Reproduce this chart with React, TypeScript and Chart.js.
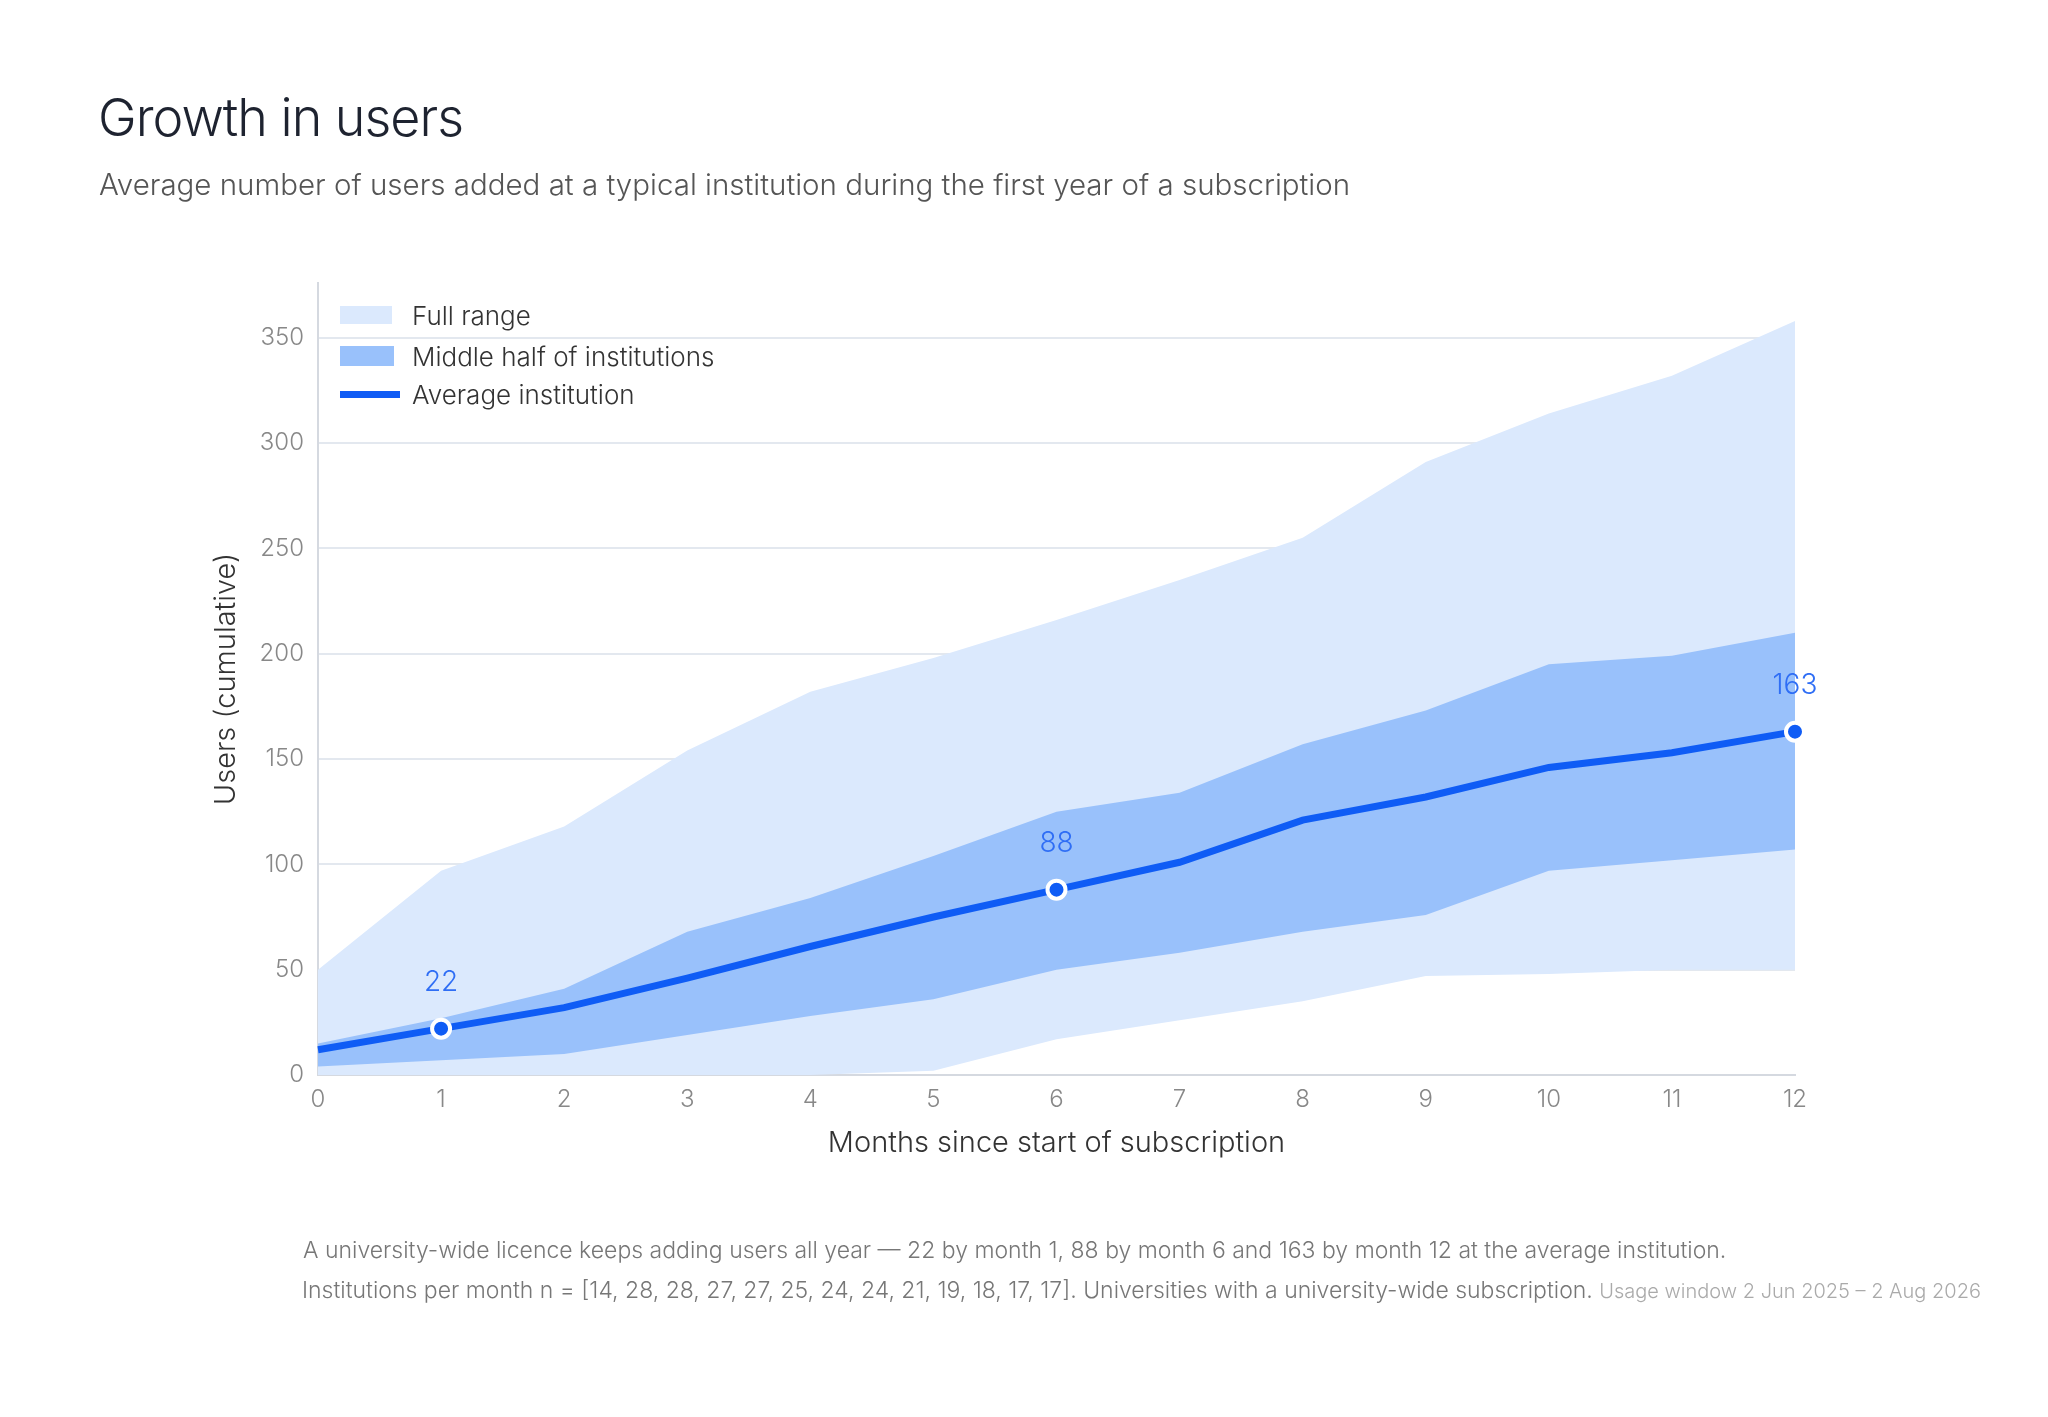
import React, { useEffect, useRef } from "react";
import { Chart, registerables } from "chart.js";
Chart.register(...registerables);

const months = ["0","1","2","3","4","5","6","7","8","9","10","11","12"];
const fullUpper = [50, 97, 118, 154, 182, 198, 216, 235, 255, 291, 314, 332, 358];
const fullLower = [0, 0, 0, 0, 0, 2, 17, 26, 35, 47, 48, 50, 50];
const iqrUpper = [15, 27, 41, 68, 84, 104, 125, 134, 157, 173, 195, 199, 210];
const iqrLower = [4, 7, 10, 19, 28, 36, 50, 58, 68, 76, 97, 102, 107];
const average = [12, 22, 32, 46, 61, 75, 88, 101, 121, 132, 146, 153, 163];
const labelled = [1, 6, 12];

const FONT = "Inter, 'Noto Sans', sans-serif";
const BLUE = "#0f5cf5";

export default function App() {
  const ref = useRef<HTMLCanvasElement>(null);
  useEffect(() => {
    const labelPlugin = {
      id: "valLabels",
      afterDatasetsDraw(chart: any) {
        const meta = chart.getDatasetMeta(4);
        const ctx = chart.ctx;
        ctx.save();
        ctx.font = `300 28px ${FONT}`;
        ctx.fillStyle = "#2f6ef5";
        ctx.textAlign = "center";
        ctx.textBaseline = "bottom";
        labelled.forEach((i) => {
          const p = meta.data[i];
          ctx.fillText(String(average[i]), p.x, p.y - 32);
        });
        ctx.restore();
      },
    };
    const chart = new Chart(ref.current!, {
      type: "line",
      data: {
        labels: months,
        datasets: [
          { label: "Full range", data: fullUpper, borderWidth: 0, pointRadius: 0, backgroundColor: "#dbe9fd", fill: "+1", order: 3 },
          { label: "fl", data: fullLower, borderWidth: 0, pointRadius: 0, fill: false, order: 3 },
          { label: "Middle half of institutions", data: iqrUpper, borderWidth: 0, pointRadius: 0, backgroundColor: "#99c1fb", fill: "+1", order: 2 },
          { label: "il", data: iqrLower, borderWidth: 0, pointRadius: 0, fill: false, order: 2 },
          {
            label: "Average institution", data: average, borderColor: BLUE, borderWidth: 7, fill: false, order: 0,
            pointRadius: average.map((_, i) => (labelled.includes(i) ? 9 : 0)),
            pointBackgroundColor: BLUE, pointBorderColor: "#fff", pointBorderWidth: 4,
          },
        ],
      },
      options: {
        responsive: false,
        animation: false,
        layout: { padding: { left: 205, right: 253, top: 283, bottom: 252 } },
        plugins: { legend: { display: false }, tooltip: { enabled: false } },
        scales: {
          x: {
            type: "category",
            offset: false,
            grid: { display: false },
            border: { color: "#d5d9e0", width: 2 },
            ticks: { color: "#888", font: { family: FONT, size: 24, weight: 300 }, padding: 2 },
            title: { display: true, text: "Months since start of subscription", color: "#333", font: { family: FONT, size: 29, weight: 300 }, padding: { top: 0 } },
            afterFit: (s: any) => { s.height = 90; },
          },
          y: {
            min: 0, max: 376,
            afterBuildTicks: (s: any) => { s.ticks = [0,50,100,150,200,250,300,350].map((v) => ({ value: v })); },
            grid: { color: "#e3e8ef", lineWidth: 2, drawTicks: false },
            border: { color: "#d5d9e0", width: 2 },
            ticks: { color: "#888", font: { family: FONT, size: 24, weight: 300 }, padding: 14 },
            title: { display: true, text: "Users (cumulative)", color: "#333", font: { family: FONT, size: 29, weight: 300 } },
            afterFit: (s: any) => { s.width = 113; },
          },
        },
      },
      plugins: [labelPlugin],
    });
    return () => chart.destroy();
  }, []);

  const legendItem = (top: number, sw: React.ReactNode, text: string) => (
    <div style={{ position: "absolute", left: 340, top, display: "flex", alignItems: "center", height: 36 }}>
      <div style={{ width: 60, display: "flex", alignItems: "center" }}>{sw}</div>
      <span style={{ marginLeft: 12, fontSize: 26, fontWeight: 300, color: "#333" }}>{text}</span>
    </div>
  );

  return (
    <div style={{ position: "relative", width: 2048, height: 1417, margin: -8, fontFamily: FONT, background: "#fff", overflow: "hidden" }}>
      <canvas ref={ref} width={2048} height={1417} style={{ position: "absolute", left: 0, top: 0 }} />
      <div style={{ position: "absolute", left: 98, top: 86, fontSize: 52, fontWeight: 300, color: "#1e2330", letterSpacing: -1 }}>Growth in users</div>
      <div style={{ position: "absolute", left: 99, top: 166, fontSize: 29.5, fontWeight: 300, color: "#555" }}>
        Average number of users added at a typical institution during the first year of a subscription
      </div>
      {legendItem(297, <div style={{ width: 52, height: 18, background: "#dbe9fd" }} />, "Full range")}
      {legendItem(338, <div style={{ width: 54, height: 20, background: "#99c1fb" }} />, "Middle half of institutions")}
      {legendItem(376, <div style={{ width: 60, height: 7, background: BLUE }} />, "Average institution")}
      <div style={{ position: "absolute", left: 303, top: 1236, fontSize: 23, fontWeight: 300, color: "#777" }}>
        A university-wide licence keeps adding users all year — 22 by month 1, 88 by month 6 and 163 by month 12 at the average institution.
      </div>
      <div style={{ position: "absolute", left: 302, top: 1276, fontSize: 23, fontWeight: 300, color: "#777", whiteSpace: "nowrap" }}>
        Institutions per month n = [14, 28, 28, 27, 27, 25, 24, 24, 21, 19, 18, 17, 17]. Universities with a university-wide subscription.{" "}
        <span style={{ fontSize: 20, color: "#aaa" }}>Usage window 2 Jun 2025 – 2 Aug 2026</span>
      </div>
    </div>
  );
}
